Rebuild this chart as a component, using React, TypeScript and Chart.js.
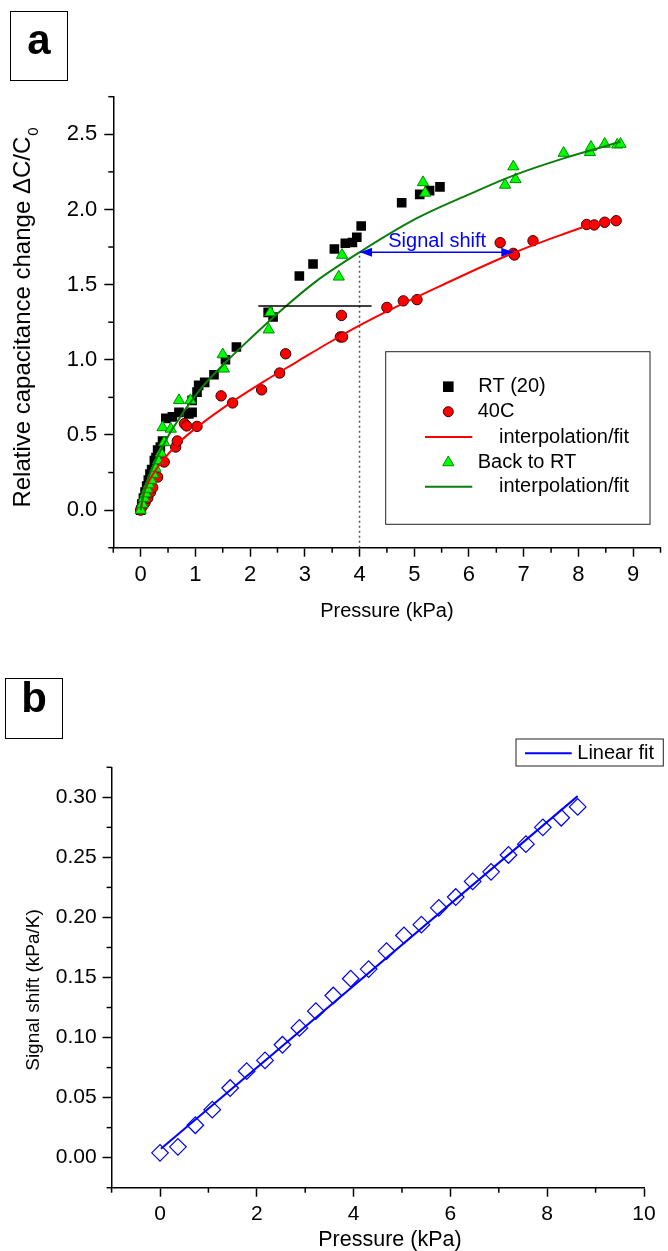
import React, { useEffect, useRef } from 'react';
import { Chart, registerables } from 'chart.js';

Chart.register(...registerables);

const FONT = '"Liberation Sans", Arial, Helvetica, sans-serif';

// ---------------- Panel a data ----------------
const A_X_TICKS = [0, 1, 2, 3, 4, 5, 6, 7, 8, 9];
const A_X_MINOR = [-0.5, 0.5, 1.5, 2.5, 3.5, 4.5, 5.5, 6.5, 7.5, 8.5, 9.5];
const A_Y_TICKS = [0, 0.5, 1, 1.5, 2, 2.5];
const A_Y_MINOR = [-0.25, 0.25, 0.75, 1.25, 1.75, 2.25, 2.75];

// RT (20) – black squares
const RT_X = [0, 0.02, 0.05, 0.08, 0.11, 0.14, 0.17, 0.2, 0.25, 0.28, 0.31, 0.36, 0.4, 0.46, 0.58, 0.7, 0.88, 0.94, 0.94, 1.03, 1.06, 1.17, 1.34, 1.55, 1.75, 2.33, 2.42, 2.9, 3.15, 3.54, 3.74, 3.87, 3.95, 4.03, 4.77, 5.1, 5.28, 5.47];
const RT_Y = [0, 0.04, 0.08, 0.12, 0.16, 0.2, 0.24, 0.27, 0.33, 0.35, 0.4, 0.42, 0.46, 0.61, 0.62, 0.65, 0.64, 0.65, 0.73, 0.785, 0.83, 0.85, 0.9, 1.0, 1.085, 1.315, 1.285, 1.557, 1.637, 1.737, 1.775, 1.78, 1.815, 1.89, 2.045, 2.1, 2.125, 2.15];

// 40C – red circles
const HOT_X = [0, 0.04, 0.08, 0.13, 0.18, 0.22, 0.31, 0.43, 0.64, 0.67, 0.8, 0.84, 1.03, 1.47, 1.68, 2.21, 2.54, 2.65, 3.65, 3.69, 3.67, 4.5, 4.8, 5.05, 6.57, 6.81, 6.83, 7.17, 8.15, 8.29, 8.48, 8.69];
const HOT_Y = [0, 0.03, 0.05, 0.08, 0.12, 0.15, 0.22, 0.32, 0.42, 0.46, 0.575, 0.56, 0.557, 0.76, 0.713, 0.8, 0.912, 1.04, 1.152, 1.152, 1.295, 1.348, 1.392, 1.4, 1.779, 1.708, 1.697, 1.792, 1.9, 1.897, 1.915, 1.925];

// 40C interpolation/fit – red line
const HOT_FIT_X = [0, 0.05, 0.15, 0.3, 0.46, 0.7, 1.06, 1.67, 2.27, 2.87, 3.47, 4.01, 4.49, 5.47, 6.81, 7.68, 8.16, 8.71];
const HOT_FIT_Y = [0, 0.1, 0.19, 0.28, 0.355, 0.45, 0.56, 0.72, 0.86, 0.99, 1.12, 1.23, 1.32, 1.49, 1.71, 1.83, 1.89, 1.94];

// Back to RT – green triangles
const BK_X = [0, 0.03, 0.06, 0.09, 0.12, 0.15, 0.19, 0.23, 0.27, 0.32, 0.37, 0.43, 0.4, 0.55, 0.7, 0.91, 1.5, 1.52, 2.34, 2.37, 3.62, 3.68, 5.16, 5.2, 6.66, 6.81, 6.85, 7.73, 8.21, 8.23, 8.48, 8.71, 8.77];
const BK_Y = [0, 0.04, 0.08, 0.11, 0.14, 0.17, 0.2, 0.24, 0.28, 0.33, 0.38, 0.45, 0.55, 0.54, 0.73, 0.73, 1.035, 0.94, 1.2, 1.315, 1.552, 1.697, 2.18, 2.11, 2.163, 2.285, 2.2, 2.375, 2.38, 2.415, 2.435, 2.43, 2.435];

// Back to RT interpolation/fit – green line
const BK_FIT_X = [0, 0.03, 0.1, 0.2, 0.34, 0.58, 1.06, 1.49, 2.03, 2.57, 3.2, 4.0, 5.04, 6.0, 6.84, 7.73, 8.77];
const BK_FIT_Y = [0, 0.07, 0.17, 0.27, 0.38, 0.54, 0.79, 0.96, 1.15, 1.33, 1.52, 1.715, 1.94, 2.1, 2.23, 2.34, 2.45];

// annotations (data coordinates)
const LEVEL_X = [2.15, 4.22];
const LEVEL_Y = [1.357, 1.357];
const MARK_X = [4, 4];
const MARK_Y = [-0.25, 1.715];
const SHIFT_X = [4.01, 6.81];
const SHIFT_Y = [1.715, 1.715];
const SHIFT_LABEL = 'Signal shift';
const SHIFT_LABEL_X = 4.525;
const SHIFT_LABEL_Y = 1.752;

// ---------------- Panel b data ----------------
const B_X_TICKS = [0, 2, 4, 6, 8, 10];
const B_X_MINOR = [-1, 1, 3, 5, 7, 9];
const B_Y_TICKS = [0, 0.05, 0.1, 0.15, 0.2, 0.25, 0.3];
const B_Y_MINOR = [-0.025, 0.025, 0.075, 0.125, 0.175, 0.225, 0.275, 0.325];

const SHIFT_P = [0, 0.37, 0.73, 1.08, 1.45, 1.79, 2.17, 2.53, 2.88, 3.22, 3.58, 3.94, 4.31, 4.68, 5.04, 5.4, 5.76, 6.11, 6.46, 6.84, 7.2, 7.56, 7.91, 8.29, 8.63];
const SHIFT_V = [0.004, 0.009, 0.027, 0.04, 0.058, 0.072, 0.081, 0.094, 0.108, 0.122, 0.135, 0.149, 0.157, 0.172, 0.185, 0.194, 0.208, 0.217, 0.23, 0.238, 0.252, 0.261, 0.275, 0.283, 0.292];
const LIN_FIT_X = [0.02, 8.63];
const LIN_FIT_Y = [0.0075, 0.301];

// ---------------- helpers ----------------
const pts = (xs: number[], ys: number[]) => xs.map((x, i) => ({ x, y: ys[i] }));

function drawMinor(chart: any, xs: number[], ys: number[], len: number) {
  const { ctx, scales, chartArea } = chart;
  ctx.save();
  ctx.strokeStyle = '#000';
  ctx.lineWidth = 1.5;
  xs.forEach((v) => {
    const px = scales.x.getPixelForValue(v);
    ctx.beginPath();
    ctx.moveTo(px, chartArea.bottom);
    ctx.lineTo(px, chartArea.bottom + len);
    ctx.stroke();
  });
  ys.forEach((v) => {
    const py = scales.y.getPixelForValue(v);
    ctx.beginPath();
    ctx.moveTo(chartArea.left, py);
    ctx.lineTo(chartArea.left - len, py);
    ctx.stroke();
  });
  ctx.restore();
}

function triPath(ctx: CanvasRenderingContext2D, cx: number, cy: number, r: number) {
  ctx.beginPath();
  ctx.moveTo(cx, cy - r);
  ctx.lineTo(cx + 0.866 * r, cy + 0.5 * r);
  ctx.lineTo(cx - 0.866 * r, cy + 0.5 * r);
  ctx.closePath();
}

function scaleCommon(ticksArr: number[], fmt: (v: number) => string, fontSize: number, pad: number, min: number, max: number, fit: (s: any) => void) {
  return {
    type: 'linear',
    min,
    max,
    afterBuildTicks: (s: any) => {
      s.ticks = ticksArr.map((v) => ({ value: v }));
    },
    afterFit: fit,
    ticks: {
      autoSkip: false,
      maxRotation: 0,
      minRotation: 0,
      padding: pad,
      color: '#000',
      font: { family: FONT, size: fontSize },
      callback: (v: any) => fmt(Number(v)),
    },
    grid: { display: true, drawOnChartArea: false, drawTicks: true, tickLength: 9, tickColor: '#000', tickWidth: 1.5 },
    border: { display: true, color: '#000', width: 1.5 },
  };
}

// ---------------- panel a ----------------
const A_CANVAS_H = 640;

const panelAPlugin = {
  id: 'panelA',
  afterDatasetsDraw(chart: any) {
    const { ctx, scales } = chart;
    const x0 = scales.x.getPixelForValue(SHIFT_X[0]);
    const x1 = scales.x.getPixelForValue(SHIFT_X[1]);
    const yy = scales.y.getPixelForValue(SHIFT_Y[0]);
    ctx.save();
    ctx.fillStyle = '#0000ff';
    ctx.beginPath();
    ctx.moveTo(x0, yy);
    ctx.lineTo(x0 + 12, yy - 4.5);
    ctx.lineTo(x0 + 12, yy + 4.5);
    ctx.closePath();
    ctx.fill();
    ctx.beginPath();
    ctx.moveTo(x1, yy);
    ctx.lineTo(x1 - 12, yy - 4.5);
    ctx.lineTo(x1 - 12, yy + 4.5);
    ctx.closePath();
    ctx.fill();
    ctx.font = `20px ${FONT}`;
    ctx.textAlign = 'left';
    ctx.textBaseline = 'alphabetic';
    ctx.fillText(SHIFT_LABEL, scales.x.getPixelForValue(SHIFT_LABEL_X), scales.y.getPixelForValue(SHIFT_LABEL_Y));
    ctx.restore();
  },
  afterDraw(chart: any) {
    const { ctx, chartArea } = chart;
    drawMinor(chart, A_X_MINOR, A_Y_MINOR, 5);
    ctx.save();
    // legend
    const lx = 385.7, ly = 351.7, lw = 264.3, lh = 172.6;
    ctx.strokeStyle = '#222';
    ctx.lineWidth = 1;
    ctx.strokeRect(lx, ly, lw, lh);
    const rows = [386.7, 411.7, 437, 462, 486.7];
    const mx = 448.3;
    ctx.font = `20px ${FONT}`;
    ctx.fillStyle = '#000';
    ctx.textAlign = 'left';
    ctx.textBaseline = 'middle';
    // RT square
    ctx.fillRect(mx - 5.3, rows[0] - 5.3, 10.6, 10.6);
    ctx.fillText('RT (20)', 478.3, rows[0]);
    // 40C circle
    ctx.beginPath();
    ctx.arc(mx, rows[1], 5, 0, Math.PI * 2);
    ctx.fillStyle = '#ff0000';
    ctx.fill();
    ctx.strokeStyle = '#300';
    ctx.stroke();
    ctx.fillStyle = '#000';
    ctx.fillText('40C', 477.7, rows[1]);
    // red line
    ctx.strokeStyle = '#ff0000';
    ctx.lineWidth = 2;
    ctx.beginPath();
    ctx.moveTo(425, rows[2]);
    ctx.lineTo(472.3, rows[2]);
    ctx.stroke();
    ctx.fillText('interpolation/fit', 499, rows[2]);
    // triangle
    triPath(ctx, mx, rows[3] + 0.5, 6.5);
    ctx.fillStyle = '#00ff00';
    ctx.fill();
    ctx.strokeStyle = '#008c00';
    ctx.lineWidth = 1;
    ctx.stroke();
    ctx.fillStyle = '#000';
    ctx.fillText('Back to RT', 477.7, rows[3]);
    // green line
    ctx.strokeStyle = '#0b7d0b';
    ctx.lineWidth = 2;
    ctx.beginPath();
    ctx.moveTo(425, rows[4]);
    ctx.lineTo(472.3, rows[4]);
    ctx.stroke();
    ctx.fillText('interpolation/fit', 499, rows[4]);

    // axis titles
    ctx.fillStyle = '#000';
    ctx.font = `20px ${FONT}`;
    ctx.textAlign = 'center';
    ctx.textBaseline = 'middle';
    ctx.fillText('Pressure (kPa)', (chartArea.left + chartArea.right) / 2, 611);

    ctx.translate(29.5, 318);
    ctx.rotate(-Math.PI / 2);
    const main = 'Relative capacitance change \u0394C/C';
    ctx.font = `24px ${FONT}`;
    const w1 = ctx.measureText(main).width;
    ctx.font = `15px ${FONT}`;
    const w2 = ctx.measureText('0').width;
    const start = -(w1 + w2) / 2;
    ctx.textAlign = 'left';
    ctx.textBaseline = 'alphabetic';
    ctx.font = `24px ${FONT}`;
    ctx.fillText(main, start, 0);
    ctx.font = `15px ${FONT}`;
    ctx.fillText('0', start + w1 + 1, 8);
    ctx.restore();
  },
};

function configA(): any {
  return {
    type: 'scatter',
    data: {
      datasets: [
        { label: 'RT (20)', data: pts(RT_X, RT_Y), pointStyle: 'rect', pointRadius: 6.8, pointBackgroundColor: '#000', pointBorderColor: '#000', pointBorderWidth: 0, order: 6 },
        { label: '40C', data: pts(HOT_X, HOT_Y), pointStyle: 'circle', pointRadius: 5.2, pointBackgroundColor: '#ff0000', pointBorderColor: '#300', pointBorderWidth: 1, order: 5 },
        { label: 'Back to RT', data: pts(BK_X, BK_Y), pointStyle: 'triangle', pointRadius: 6.5, pointBackgroundColor: '#00ff00', pointBorderColor: '#008c00', pointBorderWidth: 1, order: 4 },
        { label: 'interpolation/fit', data: pts(HOT_FIT_X, HOT_FIT_Y), showLine: true, borderColor: '#ff0000', borderWidth: 2, pointRadius: 0, cubicInterpolationMode: 'monotone', order: 3 },
        { label: 'interpolation/fit RT', data: pts(BK_FIT_X, BK_FIT_Y), showLine: true, borderColor: '#0b7d0b', borderWidth: 2, pointRadius: 0, cubicInterpolationMode: 'monotone', order: 2 },
        { label: 'level', data: pts(LEVEL_X, LEVEL_Y), showLine: true, borderColor: '#000', borderWidth: 1.5, pointRadius: 0, order: 1 },
        { label: '4 kPa', data: pts(MARK_X, MARK_Y), showLine: true, borderColor: '#555', borderWidth: 1.5, borderDash: [2, 3], pointRadius: 0, order: 1 },
        { label: 'Signal shift', data: pts(SHIFT_X, SHIFT_Y), showLine: true, borderColor: '#0000ff', borderWidth: 1.5, pointRadius: 0, order: 0 },
      ],
    },
    options: {
      responsive: false,
      animation: false,
      devicePixelRatio: 1,
      events: [],
      layout: { padding: { top: 96.7, right: 0.7, left: 0, bottom: 0 } },
      plugins: { legend: { display: false }, tooltip: { enabled: false }, title: { display: false } },
      scales: {
        x: { position: 'bottom', ...scaleCommon(A_X_TICKS, (v) => String(v), 22, 5, -0.5, 9.5, (s: any) => { s.height = A_CANVAS_H - 547.7; }) },
        y: { position: 'left', ...scaleCommon(A_Y_TICKS, (v) => v.toFixed(1), 22, 7, -0.25, 2.75, (s: any) => { s.width = 113.3; }) },
      },
    },
    plugins: [panelAPlugin],
  };
}

// ---------------- panel b ----------------
const B_TOP = 640;
const B_CANVAS_H = 611;

const panelBPlugin = {
  id: 'panelB',
  afterDraw(chart: any) {
    const { ctx, scales } = chart;
    drawMinor(chart, B_X_MINOR, B_Y_MINOR, 5);
    ctx.save();
    // legend
    const lx = 516, ly = 739 - B_TOP, lw = 147.3, lh = 27;
    ctx.strokeStyle = '#222';
    ctx.lineWidth = 1;
    ctx.strokeRect(lx, ly, lw, lh);
    ctx.strokeStyle = '#0000ff';
    ctx.lineWidth = 2;
    ctx.beginPath();
    ctx.moveTo(525, ly + 14.3);
    ctx.lineTo(571.7, ly + 14.3);
    ctx.stroke();
    ctx.fillStyle = '#000';
    ctx.font = `20px ${FONT}`;
    ctx.textAlign = 'left';
    ctx.textBaseline = 'middle';
    ctx.fillText('Linear fit', 577.3, ly + 14.3);

    // titles
    ctx.font = `21.5px ${FONT}`;
    ctx.textAlign = 'center';
    ctx.fillText('Pressure (kPa)', scales.x.getPixelForValue(4.75), 1240 - B_TOP);

    ctx.translate(39, 990 - B_TOP);
    ctx.rotate(-Math.PI / 2);
    ctx.font = `19px ${FONT}`;
    ctx.textBaseline = 'alphabetic';
    ctx.fillText('Signal shift (kPa/K)', 0, 0);
    ctx.restore();
  },
};

function configB(): any {
  return {
    type: 'scatter',
    data: {
      datasets: [
        { label: 'Linear fit', data: pts(LIN_FIT_X, LIN_FIT_Y), showLine: true, borderColor: '#0000ff', borderWidth: 2, pointRadius: 0, order: 0 },
        { label: 'Signal shift', data: pts(SHIFT_P, SHIFT_V), pointStyle: 'rectRot', pointRadius: 8.3, pointBackgroundColor: 'rgba(0,0,0,0)', pointBorderColor: '#0000ff', pointBorderWidth: 1.2, order: 1 },
      ],
    },
    options: {
      responsive: false,
      animation: false,
      devicePixelRatio: 1,
      events: [],
      layout: { padding: { top: 767.3 - B_TOP, right: 668 - 644, left: 0, bottom: 0 } },
      plugins: { legend: { display: false }, tooltip: { enabled: false }, title: { display: false } },
      scales: {
        x: { position: 'bottom', ...scaleCommon(B_X_TICKS, (v) => String(v), 21, 5, -1, 10, (s: any) => { s.height = B_CANVAS_H - (1187.7 - B_TOP); }) },
        y: { position: 'left', ...scaleCommon(B_Y_TICKS, (v) => v.toFixed(2), 21, 6, -0.025, 0.325, (s: any) => { s.width = 111.6; }) },
      },
    },
    plugins: [panelBPlugin],
  };
}

function ChartCanvas({ make, top, height }: { make: () => any; top: number; height: number }) {
  const ref = useRef<HTMLCanvasElement>(null);
  useEffect(() => {
    const chart = new Chart(ref.current as HTMLCanvasElement, make());
    return () => chart.destroy();
  }, []);
  return (
    <canvas
      ref={ref}
      width={668}
      height={height}
      style={{ position: 'absolute', left: 0, top, width: 668, height }}
    />
  );
}

function PanelLabel({ text, left, top, height, textTop }: { text: string; left: number; top: number; height: number; textTop: number }) {
  return (
    <div
      style={{
        position: 'absolute',
        left,
        top,
        width: 58,
        height,
        boxSizing: 'border-box',
        border: '1.5px solid #000',
        fontFamily: FONT,
        fontWeight: 'bold',
        fontSize: 42,
        lineHeight: '42px',
        textAlign: 'center',
      }}
    >
      <div style={{ position: 'absolute', left: 0, right: 0, top: textTop }}>{text}</div>
    </div>
  );
}

export default function App() {
  return (
    <div style={{ position: 'absolute', left: 0, top: 0, width: 668, height: 1251, background: '#fff', overflow: 'hidden' }}>
      <ChartCanvas make={configA} top={0} height={A_CANVAS_H} />
      <ChartCanvas make={configB} top={B_TOP} height={B_CANVAS_H} />
      <PanelLabel text="a" left={10} top={11} height={70} textTop={7} />
      <PanelLabel text="b" left={5} top={678} height={61} textTop={-2} />
    </div>
  );
}
